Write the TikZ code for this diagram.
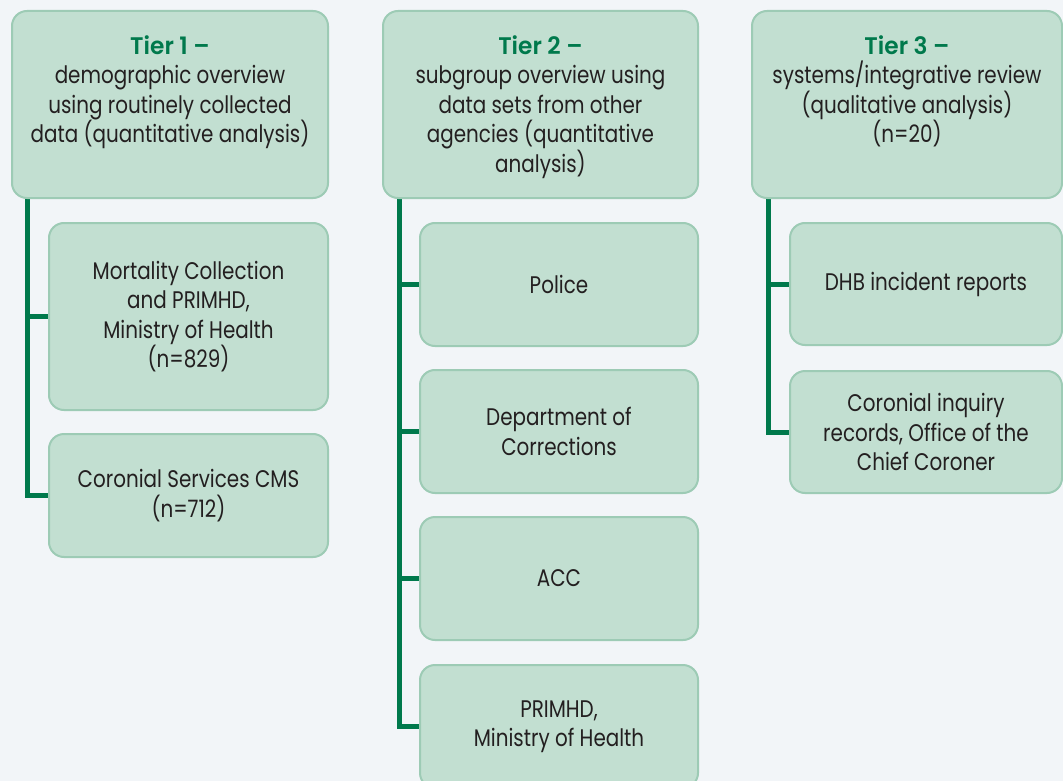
\documentclass[tikz,border=0pt]{standalone}
\usepackage{fontspec}
\setmainfont{Poppins}[FakeStretch=0.83]
\newfontfamily\headfont{Poppins SemiBold}[FakeStretch=0.97]
\usetikzlibrary{calc,backgrounds}
\definecolor{bg}{HTML}{F2F5F8}
\definecolor{boxfill}{HTML}{C2DFD1}
\definecolor{boxline}{HTML}{9DCBB5}
\definecolor{linkgreen}{HTML}{00794C}
\definecolor{headgreen}{HTML}{00794C}
\definecolor{txt}{HTML}{231F20}
\begin{document}
\begin{tikzpicture}[x=1pt,y=1pt,
  box/.style={draw=boxline, fill=boxfill, line width=2pt, rounded corners=15pt,
    inner sep=0pt, text=txt, align=center, font=\fontsize{24}{29.5}\selectfont},
  tierbox/.style={box, minimum height=187pt},
  childbox/.style={box, minimum height=123pt},
  link/.style={draw=linkgreen, line width=5pt},
  tiertext/.style={anchor=north, inner sep=0pt, align=center, text=txt,
    font=\fontsize{24}{29.5}\selectfont},
]
\useasboundingbox (0,0) rectangle (1063,-781);
\clip (0,0) rectangle (1063,-781);

% ---------- Tier boxes ----------
\node[tierbox, minimum width=316pt] (t1) at (170,-104.5) {};
\node[tiertext] (t1txt) at (170,-35)
  {{\headfont\color{headgreen}Tier 1 –}\\demographic overview\\using routinely collected\\data (quantitative analysis)};

\node[tierbox, minimum width=315pt] (t2) at (540.5,-104.5) {};
\node[tiertext] (t2txt) at (540.5,-35)
  {{\headfont\color{headgreen}Tier 2 –}\\subgroup overview using\\data sets from other\\agencies (quantitative\\analysis)};

\node[tierbox, minimum width=310pt] (t3) at (907,-104.5) {};
\node[tiertext] (t3txt) at (907,-35)
  {{\headfont\color{headgreen}Tier 3 –}\\systems/integrative review\\(qualitative analysis)\\(n=20)};

% ---------- Tier 1 children ----------
\node[box, minimum width=279pt, minimum height=187pt] (c11) at (188.5,-316.5)
  {Mortality Collection\\and PRIMHD,\\Ministry of Health\\(n=829)};
\node[childbox, minimum width=279pt] (c12) at (188.5,-495.5)
  {Coronial Services CMS\\(n=712)};

% ---------- Tier 2 children ----------
\node[childbox, minimum width=278pt] (c21) at (559,-284.5) {Police};
\node[childbox, minimum width=278pt] (c22) at (559,-431.5) {Department of\\Corrections};
\node[childbox, minimum width=278pt] (c23) at (559,-578.5) {ACC};
\node[childbox, minimum width=278pt] (c24) at (559,-726.5) {PRIMHD,\\Ministry of Health};

% ---------- Tier 3 children ----------
\node[childbox, minimum width=272pt, minimum height=122pt] (c31) at (926,-284) {DHB incident reports};
\node[childbox, minimum width=272pt, minimum height=122pt] (c32) at (926,-432) {Coronial inquiry\\records, Office of the\\Chief Coroner};

% ---------- Connectors ----------
\coordinate (k1) at ($(t1.south west)+(16.5,0)$);
\coordinate (k2) at ($(t2.south west)+(17.5,0)$);
\coordinate (k3) at ($(t3.south west)+(17,0)$);
\begin{scope}[on background layer]
  \fill[bg] (0,0) rectangle (1063,-781);
  \draw[link] (k1) |- (c12.west);
  \draw[link] (k1 |- c11.west) -- (c11.west);
  \draw[link] (k2) |- (c24.west);
  \draw[link] (k2 |- c21.west) -- (c21.west);
  \draw[link] (k2 |- c22.west) -- (c22.west);
  \draw[link] (k2 |- c23.west) -- (c23.west);
  \draw[link] (k3) |- (c32.west);
  \draw[link] (k3 |- c31.west) -- (c31.west);
\end{scope}
\end{tikzpicture}
\end{document}
